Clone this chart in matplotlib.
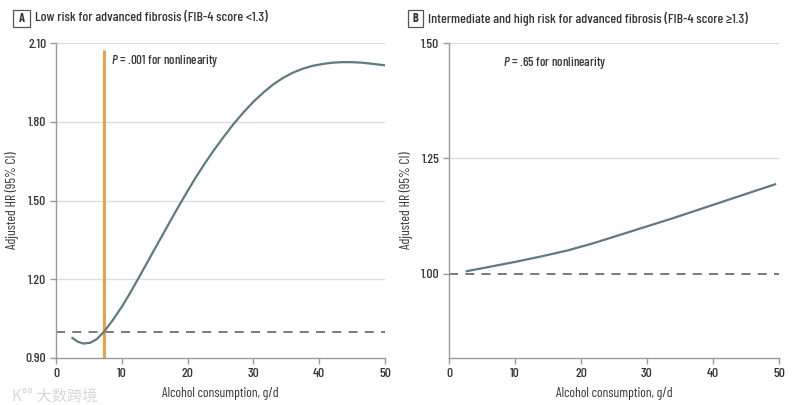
import matplotlib
matplotlib.use("Agg")
import matplotlib.pyplot as plt
from matplotlib.patches import Rectangle

plt.rcParams['font.family'] = ['Barlow Condensed', 'DejaVu Sans']
plt.rcParams['font.weight'] = 500
plt.rcParams['mathtext.fontset'] = 'custom'
plt.rcParams['mathtext.it'] = 'Barlow Condensed:italic:medium'
plt.rcParams['mathtext.rm'] = 'Barlow Condensed:medium'

# panel A - low risk (FIB-4 < 1.3)
alc_a = [2.5, 3.3, 4.2, 5.2, 6.2, 7.3, 8.5, 10, 11.2, 12.4, 14, 16, 18, 19.5, 21, 22.5,
         24, 25.5, 27, 28.5, 30, 31.5, 33, 34.5, 36, 37.5, 39, 40.5, 42, 43.5, 45, 46.5,
         48, 50]
hr_a = [0.976, 0.962, 0.955, 0.958, 0.972, 1.0, 1.040, 1.095, 1.145, 1.198, 1.27, 1.36,
        1.45, 1.515, 1.578, 1.637, 1.692, 1.743, 1.792, 1.836, 1.876, 1.911, 1.942, 1.967,
        1.987, 2.002, 2.013, 2.020, 2.025, 2.027, 2.027, 2.025, 2.021, 2.015]
knot_a = 7.3

# panel B - intermediate/high risk (FIB-4 >= 1.3)
alc_b = [2.7, 6, 10, 14, 18, 22, 26, 30, 34, 38, 42, 46, 49.4]
hr_b = [1.006, 1.015, 1.026, 1.038, 1.051, 1.067, 1.085, 1.103, 1.121, 1.140, 1.159,
        1.178, 1.194]

xticks = [0, 10, 20, 30, 40, 50]
yticks_a = [0.90, 1.20, 1.50, 1.80, 2.10]
yticks_b = [1.00, 1.25, 1.50]

curve_col = '#5b7b86'
axis_col = '#9a9a9a'
text_col = '#333333'

fig = plt.figure(figsize=(8.01, 4.05), dpi=100)
ax_a = fig.add_axes([56/801, 47/405, 329/801, 315/405])
ax_b = fig.add_axes([449/801, 47/405, 330/801, 315/405])


def style(ax, yticks, ylim, ylab_x):
    ax.set_xlim(0, 50)
    ax.set_ylim(*ylim)
    ax.set_xticks(xticks)
    ax.set_yticks(yticks)
    ax.set_yticklabels(['%.2f' % v for v in yticks])
    for s in ['top', 'right']:
        ax.spines[s].set_visible(False)
    for s in ['left', 'bottom']:
        ax.spines[s].set_color(axis_col)
        ax.spines[s].set_linewidth(1.0)
    ax.tick_params(colors=axis_col, labelcolor=text_col, labelsize=9.8, length=4, width=1, pad=3)
    for v in yticks:
        if v > ylim[0] + 1e-9 and abs(v - 1.0) > 1e-9:
            ax.axhline(v, color='#dcdcdc', linewidth=1.0, zorder=0)
    ax.set_xlabel('Alcohol consumption, g/d', fontsize=9.8, color=text_col)
    ax.set_ylabel('Adjusted HR (95% CI)', fontsize=9.8, color=text_col)
    ax.xaxis.set_label_coords(0.5, -0.092)
    ax.yaxis.set_label_coords(ylab_x, 0.5)


style(ax_a, yticks_a, (0.90, 2.10), -0.112)
ax_a.axhline(1.0, color='#707070', linewidth=1.3, linestyle=(0, (5, 4)), zorder=1)
ax_a.plot([knot_a, knot_a], [0.90, 2.074], color='#e9a342', linewidth=2.2, zorder=2,
          solid_capstyle='butt')
ax_a.plot(alc_a, hr_a, color=curve_col, linewidth=1.6, zorder=3)
ax_a.text(8.3, 2.03, r'$P$ = .001 for nonlinearity', fontsize=9.3, color=text_col, va='center')

style(ax_b, yticks_b, (0.818, 1.50), -0.109)
ax_b.axhline(1.0, color='#707070', linewidth=1.3, linestyle=(0, (5, 4)), zorder=1)
ax_b.plot(alc_b, hr_b, color=curve_col, linewidth=1.6, zorder=3)
ax_b.text(8.2, 1.457, r'$P$ = .65 for nonlinearity', fontsize=9.3, color=text_col, va='center')

# panel titles with boxed letters
for bx, bw, letter, title in [(13, 17, 'A', 'Low risk for advanced fibrosis (FIB-4 score <1.3)'),
                              (408, 15, 'B', 'Intermediate and high risk for advanced fibrosis (FIB-4 score \u22651.3)')]:
    fig.patches.append(Rectangle((bx/801, (405-27)/405), bw/801, 17/405,
                                 transform=fig.transFigure, facecolor='white',
                                 edgecolor='#555555', linewidth=0.9))
    fig.text((bx+bw/2)/801, (405-18.5)/405, letter, ha='center', va='center',
             fontsize=9, fontweight='bold', color=text_col)
    fig.text((bx+bw+5)/801, (405-18.5)/405, title, ha='left', va='center',
             fontsize=10, color=text_col)

# watermark
fig.text(12/801, 9/405, 'K\u00b0\u00b0 大数跨境', fontsize=11, color='#d8d8d8',
         family=['Noto Sans CJK SC', 'DejaVu Sans'], va='center')

fig.savefig('out.png', dpi=100)
